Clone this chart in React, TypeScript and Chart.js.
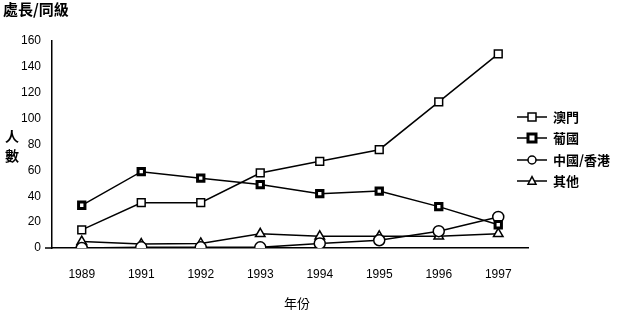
import React, { useEffect, useRef } from "react";
import { Chart, registerables } from "chart.js";

Chart.register(...registerables);

const years = ["1989", "1991", "1992", "1993", "1994", "1995", "1996", "1997"];
const macau = [14, 35, 35, 58, 67, 76, 113, 150];
const portugal = [33, 59, 54, 49, 42, 44, 32, 18];
const chinaHK = [0, 0.5, 0.5, 0.5, 3.5, 6, 13, 24];
const others = [5, 3, 3.5, 11, 9, 9, 9, 11];
const seriesNames = ["澳門", "葡國", "中國/香港", "其他"];
const yTicks = [0, 20, 40, 60, 80, 100, 120, 140, 160];

const chartTitle = "處長/同級";
const yTitle = ["人", "數"];
const xTitle = "年份";

const CJK = '"Noto Sans CJK TC", "Noto Sans CJK SC", sans-serif';
const NUM = '"Liberation Sans", Arial, sans-serif';

function drawPointLocal(ctx: CanvasRenderingContext2D, style: string, x: number, y: number, r: number) {
  ctx.beginPath();
  if (style === "rect") {
    ctx.rect(x - r, y - r, 2 * r, 2 * r);
  } else if (style === "triangle") {
    ctx.moveTo(x, y - r * 1.1);
    ctx.lineTo(x + r, y + r * 0.8);
    ctx.lineTo(x - r, y + r * 0.8);
    ctx.closePath();
  } else {
    ctx.arc(x, y, r, 0, Math.PI * 2);
  }
  ctx.fill();
  ctx.stroke();
}

const extrasPlugin = {
  id: "extras",
  afterDraw(chart: any) {
    const ctx = chart.ctx;
    ctx.save();
    ctx.fillStyle = "#000";
    ctx.textBaseline = "middle";
    ctx.font = `bold 15px ${CJK}`;
    ctx.textAlign = "left";
    ctx.fillText(chartTitle, 3, 9);
    ctx.font = `bold 14px ${CJK}`;
    ctx.textAlign = "center";
    ctx.fillText(yTitle[0], 12, 136);
    ctx.fillText(yTitle[1], 12, 156);
    ctx.font = `13px ${CJK}`;
    ctx.fillText(xTitle, 297, 303);
    // small axis extension left of y axis at zero
    const area = chart.chartArea;
    ctx.strokeStyle = "#000";
    ctx.lineWidth = 1.5;
    ctx.beginPath();
    ctx.moveTo(area.left - 7, area.bottom);
    ctx.lineTo(area.left, area.bottom);
    ctx.stroke();
    const rows = [117, 138, 160, 181];
    chart.data.datasets.forEach((ds: any, i: number) => {
      const y = rows[i];
      ctx.strokeStyle = "#000";
      ctx.lineWidth = 1.5;
      ctx.beginPath();
      ctx.moveTo(517, y);
      ctx.lineTo(547, y);
      ctx.stroke();
      ctx.fillStyle = "#fff";
      ctx.lineWidth = ds.pointBorderWidth;
      drawPointLocal(ctx, ds.pointStyle, 532, y, 4);
      ctx.fillStyle = "#000";
      ctx.font = `bold 13px ${CJK}`;
      ctx.textAlign = "left";
      ctx.fillText(ds.label, 553, y);
    });
    ctx.restore();
  },
};

export default function App() {
  const ref = useRef<HTMLCanvasElement>(null);
  useEffect(() => {
    if (!ref.current) return;
    const mk = (label: string, data: number[], style: string, bw: number, r: number) => ({
      label,
      data,
      borderColor: "#000",
      borderWidth: 1.5,
      pointStyle: style,
      pointRadius: r,
      pointBackgroundColor: "#fff",
      pointBorderColor: "#000",
      pointBorderWidth: bw,
      tension: 0,
      fill: false,
    });
    const chart = new Chart(ref.current, {
      type: "line",
      data: {
        labels: years,
        datasets: [
          mk(seriesNames[0], macau, "rect", 1.5, 5.5),
          mk(seriesNames[1], portugal, "rect", 3, 4.5),
          mk(seriesNames[2], chinaHK, "circle", 1.5, 5.5),
          mk(seriesNames[3], others, "triangle", 1.5, 5.5),
        ],
      },
      options: {
        responsive: false,
        animation: false,
        devicePixelRatio: 1,
        layout: { padding: { left: 0, right: 101, top: 41, bottom: 0 } },
        plugins: {
          legend: { display: false },
          tooltip: { enabled: false },
          title: { display: false },
        },
        scales: {
          x: {
            offset: true,
            grid: { display: false, drawTicks: false },
            border: { display: true, color: "#000", width: 1.5 },
            ticks: {
              color: "#000",
              font: { family: NUM, size: 12 },
              padding: 19,
              maxRotation: 0,
            },
            afterFit(scale: any) {
              scale.height = 65;
            },
          },
          y: {
            min: 0,
            max: 160,
            afterBuildTicks(scale: any) {
              scale.ticks = yTicks.map((v) => ({ value: v }));
            },
            grid: { display: false, drawTicks: false },
            border: { display: true, color: "#000", width: 1.5 },
            ticks: {
              color: "#000",
              font: { family: NUM, size: 12 },
              padding: 11,
            },
            afterFit(scale: any) {
              scale.width = 52;
            },
          },
        },
      },
      plugins: [extrasPlugin],
    } as any);
    return () => chart.destroy();
  }, []);
  return (
    <div style={{ position: "fixed", left: 0, top: 0, width: 629, height: 313, background: "#fff" }}>
      <canvas ref={ref} width={629} height={313} style={{ width: 629, height: 313, display: "block" }} />
    </div>
  );
}
